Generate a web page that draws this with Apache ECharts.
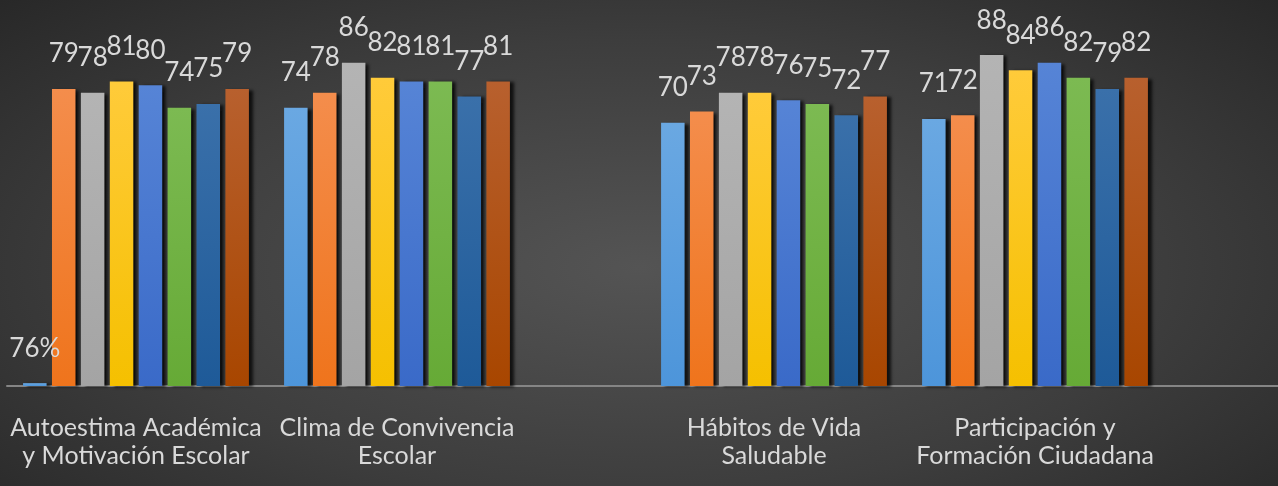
<!DOCTYPE html>
<html>
<head>
<meta charset="utf-8">
<script src="https://cdn.jsdelivr.net/npm/echarts@6/dist/echarts.min.js"></script>
<style>
html,body{margin:0;padding:0;}
#chart{width:1278px;height:486px;background:radial-gradient(ellipse 75% 85% at 50% 55%, #545454 0%, #3d3d3d 55%, #242424 100%);}
</style>
</head>
<body>
<div id="chart"></div>
<script>
// ---- data ----
const categories = [
  'Autoestima Académica\ny Motivación Escolar',
  'Clima de Convivencia\nEscolar',
  'Hábitos de Vida\nSaludable',
  'Participación y\nFormación Ciudadana'
];
const serie1 = [0.76, 74, 70, 71];
const serie2 = [79, 78, 73, 72];
const serie3 = [78, 86, 78, 88];
const serie4 = [81, 82, 78, 84];
const serie5 = [80, 81, 76, 86];
const serie6 = [74, 81, 75, 82];
const serie7 = [75, 77, 72, 79];
const serie8 = [79, 81, 77, 82];
const allSeries = [serie1, serie2, serie3, serie4, serie5, serie6, serie7, serie8];

// ---- styles ----
const colors = [
  ['#6aa8e2', '#4d95da'],
  ['#f48d4c', '#ef741c'],
  ['#b4b4b4', '#a4a4a4'],
  ['#ffcb3a', '#f5c000'],
  ['#5684d6', '#3a6ac8'],
  ['#7cba52', '#66aa36'],
  ['#3a70aa', '#1e5a98'],
  ['#b8602e', '#a84600']
];
const FONT = 'Lato';

const chart = echarts.init(document.getElementById('chart'), null, {renderer: 'canvas'});

const grids = [
  {left: 5.5, width: 522, top: 10, bottom: 100},
  {left: 643.5, width: 522, top: 10, bottom: 100},
  {left: 7, right: 0, top: 10, bottom: 100}
];

const xAxes = [0, 1].map(g => ({
  type: 'category', gridIndex: g,
  data: categories.slice(g * 2, g * 2 + 2),
  axisLine: {show: false}, axisTick: {show: false},
  axisLabel: {color: '#d9d9d9', fontFamily: FONT, fontSize: 25, lineHeight: 28, margin: 28, interval: 0}
}));
xAxes.push({
  type: 'category', gridIndex: 2, data: [''],
  axisLine: {show: true, lineStyle: {color: '#858585', width: 2}},
  axisTick: {show: false}, axisLabel: {show: false}
});

const yAxes = [0, 1, 2].map(g => ({
  type: 'value', gridIndex: g, min: 0, max: 100,
  show: false, splitLine: {show: false}
}));

const series = [];
[0, 1].forEach(g => {
  allSeries.forEach((vals, i) => {
    series.push({
      type: 'bar', xAxisIndex: g, yAxisIndex: g,
      data: vals.slice(g * 2, g * 2 + 2),
      barWidth: 23.5, barGap: '23%',
      itemStyle: {
        color: new echarts.graphic.LinearGradient(0, 0, 0, 1, [
          {offset: 0, color: colors[i][0]}, {offset: 1, color: colors[i][1]}
        ]),
        shadowColor: 'rgba(0,0,0,0.75)', shadowBlur: 3, shadowOffsetX: 4, shadowOffsetY: 1
      },
      label: {
        show: true, position: 'top', distance: 22,
        color: '#d9d9d9', fontFamily: FONT, fontSize: 26,
        formatter: p => p.value < 1 ? Math.round(p.value * 100) + '%' : String(p.value)
      },
      z: 2
    });
  });
});

chart.setOption({
  animation: false,
  backgroundColor: 'transparent',
  grid: grids,
  xAxis: xAxes,
  yAxis: yAxes,
  series: series
});
</script>
</body>
</html>
